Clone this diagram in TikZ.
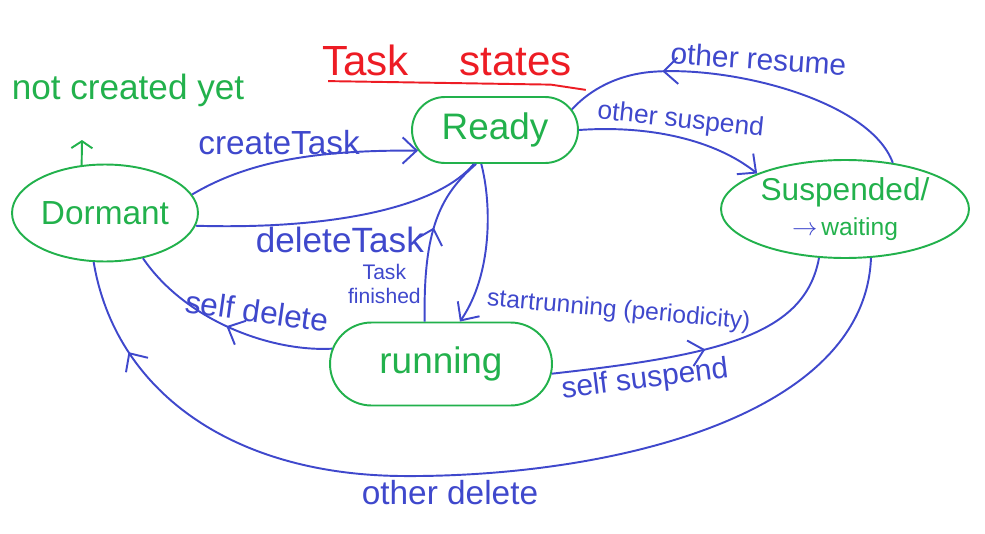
\documentclass[tikz,border=0pt]{standalone}
\usepackage{fontspec}
\setmainfont{Liberation Sans}
\usepackage{tikz}
\usetikzlibrary{arrows.meta,positioning,shapes.geometric,shapes.misc,decorations.markings}
\definecolor{inkblue}{HTML}{3F48CC}
\definecolor{inkgreen}{HTML}{22B14C}
\definecolor{inkred}{HTML}{ED1C24}
\tikzset{
  stateoval/.style={
    ellipse, draw=inkgreen, text=inkgreen, line width=1.1pt,
    inner sep=0pt, align=center,
    font=\fontsize{19}{21}\selectfont
  },
  statepill/.style={
    rounded rectangle, draw=inkgreen, text=inkgreen, line width=1.1pt,
    inner sep=0pt, align=center,
    font=\fontsize{21}{23}\selectfont
  },
  transition/.style={
    -{Straight Barb[length=8pt,width=15pt]}, color=inkblue, line width=1.1pt
  },
  plainline/.style={color=inkblue, line width=1.1pt},
  midarrow/.style={
    color=inkblue, line width=1.1pt, postaction={decorate},
    decoration={markings, mark=at position #1 with
      {\arrow{Straight Barb[length=8pt,width=15pt]}}}
  },
  midarrow/.default=0.5,
  edgelabel/.style={
    text=inkblue, inner sep=2pt, font=\fontsize{18}{20}\selectfont
  },
}

\begin{document}
\begin{tikzpicture}[x=0.02cm, y=-0.02cm]
\useasboundingbox (0,0) rectangle (985,534);

% states
\node[stateoval, minimum width=3.72cm, minimum height=1.94cm] (dormant) at (105,213) {Dormant};
\node[statepill, minimum width=3.32cm, minimum height=1.32cm] (ready) at (495,130) {Ready};
\node[stateoval, minimum width=4.96cm, minimum height=1.96cm, font=\fontsize{18}{20}\selectfont] (susp) at (845,209)
  {Suspended/\\{\fontsize{14}{15}\selectfont{\color{inkblue}$\rightarrow$}\,waiting}};
\node[statepill, minimum width=4.44cm, minimum height=1.66cm] (running) at (441,364) {running};

% title
\node[text=inkred, inner sep=2pt, font=\fontsize{24}{26}\selectfont] (title) at (447,60) {Task\hspace{1.2em}states};
\draw[inkred, line width=1.1pt] ([xshift=0.2cm,yshift=-1pt]title.south west)
  -- ([xshift=-0.5cm,yshift=-3pt]title.south east) -- ([xshift=0.2cm,yshift=-6pt]title.south east);

% not created yet
\node[text=inkgreen, inner sep=2pt, font=\fontsize{20}{22}\selectfont] (notyet) at (128,90) {not created yet};
\coordinate (notyettip) at (82,140);
\draw[inkgreen, line width=1.1pt, -{Straight Barb[length=4pt,width=12pt]}] (dormant.116) -- (notyettip);

% Dormant <-> Ready
\draw[transition] (dormant.12) .. controls (250,160) and (320,150) ..
  node[edgelabel, pos=0.45, above=1pt, font=\fontsize{19}{21}\selectfont] (lblcreate) {createTask} (ready.195);
\draw[plainline] (ready.238) .. controls (440,205) and (340,230) ..
  node[edgelabel, pos=0.62, below=2pt, font=\fontsize{20}{22}\selectfont] (lbldelete) {deleteTask} (dormant.-8);

% Ready <-> Running
\draw[midarrow=0.55] (running.111) .. controls (423,230) and (440,195) ..
  node[edgelabel, pos=0.15, left, align=center, font=\fontsize{12}{14}\selectfont] (lblfinished) {Task\\finished} (ready.241);
\draw[transition] (ready.248) .. controls (492,205) and (492,275) ..
  node[edgelabel, pos=0.85, right=6pt, rotate=-5, font=\fontsize{14}{16}\selectfont] (lblstart) {startrunning (periodicity)} (running.66);

% Running -> Dormant
\draw[midarrow=0.5] (running.172) .. controls (270,352) and (185,320) ..
  node[edgelabel, pos=0.38, above=6pt, rotate=-8] (lblselfdel) {self delete} (dormant.-50);

% Suspended -> Dormant
\draw[midarrow=0.9] (susp.-62) .. controls (865,420) and (600,478) .. (400,476)
  node[edgelabel, below, xshift=1cm, font=\fontsize{19}{21}\selectfont] (lblotherdel) {other delete}
  .. controls (230,474) and (115,390) .. (dormant.-103);

% Running -> Suspended
\draw[midarrow=0.5] (running.-5) .. controls (720,355) and (805,335) ..
  node[edgelabel, pos=0.2, below, rotate=7, font=\fontsize{17}{19}\selectfont] (lblselfsusp) {self suspend} (susp.-118);

% Ready <-> Suspended
\draw[transition] (ready.east) .. controls (650,125) and (715,140) ..
  node[edgelabel, pos=0.5, above, rotate=-6, font=\fontsize{15}{17}\selectfont] (lblothersusp) {other suspend} (susp.158);
\draw[midarrow=0.72] (susp.44) .. controls (870,100) and (730,65) ..
  node[edgelabel, pos=0.62, above=4pt, rotate=-4, font=\fontsize{17}{19}\selectfont] (lblresume) {other resume} (650,72)
  .. controls (610,76) and (585,95) .. (ready.15);

\end{tikzpicture}
\end{document}
